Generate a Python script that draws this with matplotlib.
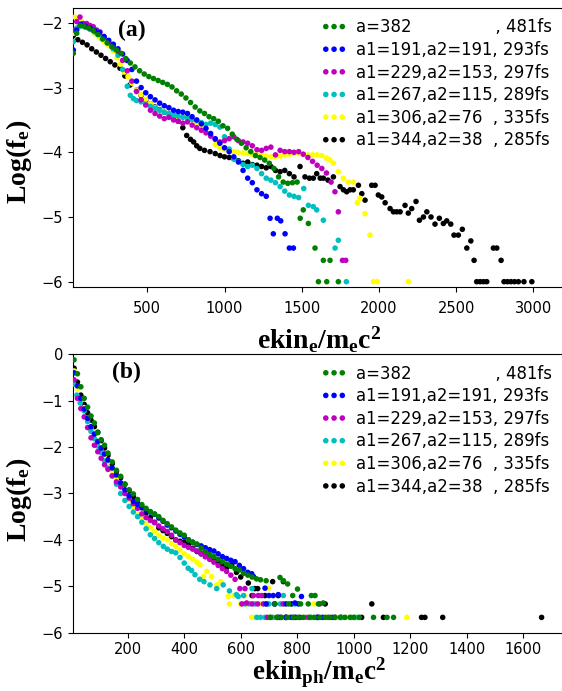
# electron (a) and photon (b) energy spectra, log of distribution
import matplotlib.pyplot as plt

plt.rcParams['mathtext.fontset'] = 'custom'
plt.rcParams['mathtext.bf'] = 'Liberation Serif:bold'
plt.rcParams['mathtext.rm'] = 'Liberation Serif'

# legend labels and colours (same for both panels)
labels = ['a=382                , 481fs',
          'a1=191,a2=191, 293fs',
          'a1=229,a2=153, 297fs',
          'a1=267,a2=115, 289fs',
          'a1=306,a2=76  , 335fs',
          'a1=344,a2=38  , 285fs']
colors = ['green', 'blue', 'm', 'c', 'yellow', 'black']

# ---------------- panel (a): electrons ----------------
ex_382 = [21, 43, 64, 90, 120, 150, 180, 210, 240, 270, 300, 330, 360, 390, 420, 450, 480, 510, 540, 570,
          600, 630, 660, 690, 720, 750, 780, 810, 840, 870, 900, 930, 960, 990, 1020, 1050, 1080, 1110, 1140, 1170,
          1200, 1230, 1260, 1290, 1320, 1350, 1380, 1410, 1440, 1470, 1490, 1510, 1543, 1586, 1608, 1640, 1662, 1683, 1737]
ey_382 = [-2.47, -2.16, -2.04, -2.05, -2.08, -2.12, -2.18, -2.25, -2.31, -2.37, -2.42, -2.47, -2.55, -2.62, -2.68, -2.74, -2.79, -2.83, -2.86, -2.89,
          -2.92, -2.95, -2.99, -3.05, -3.10, -3.16, -3.23, -3.30, -3.36, -3.40, -3.45, -3.48, -3.52, -3.59, -3.63, -3.72, -3.80, -3.86, -3.93, -3.99,
          -4.05, -4.08, -4.12, -4.17, -4.25, -4.38, -4.46, -4.48, -4.47, -4.46, -5.02, -4.89, -5.10, -5.48, -6.0, -5.67, -6.0, -5.67, -6.0]

ex_191 = [21, 43, 70, 100, 130, 160, 190, 220, 250, 280, 310, 340, 370, 400, 430, 460, 490, 520, 550, 580,
          610, 640, 670, 700, 730, 760, 790, 820, 850, 880, 910, 940, 970, 1000, 1030, 1060, 1090, 1120, 1150, 1180,
          1210, 1240, 1270, 1295, 1316, 1342, 1364, 1392, 1420, 1446]
ey_191 = [-2.42, -2.11, -2.02, -2.05, -2.08, -2.12, -2.15, -2.21, -2.27, -2.33, -2.40, -2.48, -2.58, -2.72, -2.90, -3.00, -3.08, -3.14, -3.19, -3.24,
          -3.28, -3.31, -3.35, -3.37, -3.38, -3.40, -3.45, -3.50, -3.56, -3.63, -3.71, -3.79, -3.86, -3.93, -3.99, -4.07, -4.15, -4.28, -4.40, -4.47,
          -4.58, -4.64, -4.68, -5.02, -5.26, -5.02, -5.06, -5.26, -5.48, -5.48]

ex_229 = [21, 43, 64, 86, 107, 129, 150, 172, 194, 220, 250, 280, 310, 340, 370, 400, 430, 460, 490, 520,
          550, 580, 610, 640, 670, 700, 730, 760, 790, 820, 850, 880, 910, 940, 970, 1000, 1030, 1060, 1090, 1120,
          1150, 1180, 1210, 1240, 1270, 1300, 1330, 1360, 1390, 1420, 1450, 1480, 1510, 1540, 1570, 1600, 1630, 1660, 1690, 1715,
          1737, 1764, 1785]
ey_229 = [-2.11, -1.98, -1.91, -2.01, -2.01, -2.04, -2.06, -2.11, -2.14, -2.22, -2.30, -2.37, -2.44, -2.58, -2.74, -2.90, -3.06, -3.19, -3.27, -3.35,
          -3.40, -3.44, -3.48, -3.46, -3.50, -3.52, -3.55, -3.53, -3.58, -3.62, -3.66, -3.70, -3.75, -3.80, -3.84, -3.82, -3.79, -3.76, -3.82, -3.84,
          -3.86, -3.90, -3.96, -3.97, -3.94, -3.92, -4.04, -3.97, -3.99, -3.99, -4.00, -3.99, -4.03, -4.08, -4.14, -4.20, -4.25, -4.32, -4.46, -4.61,
          -4.92, -5.67, -5.67]

ex_267 = [21, 43, 70, 100, 130, 160, 190, 220, 250, 280, 310, 340, 370, 390, 410, 430, 460, 490, 520, 550,
          580, 610, 640, 670, 700, 730, 760, 790, 820, 850, 880, 910, 940, 970, 1000, 1030, 1060, 1090, 1120, 1150,
          1180, 1210, 1240, 1270, 1300, 1330, 1360, 1390, 1420, 1450, 1480, 1513, 1543, 1575, 1597, 1640, 1716, 1737, 1789]
ey_267 = [-2.29, -2.08, -2.05, -2.07, -2.10, -2.14, -2.18, -2.24, -2.31, -2.40, -2.50, -2.72, -2.98, -3.12, -3.17, -3.20, -3.22, -3.26, -3.29, -3.32,
          -3.35, -3.38, -3.40, -3.42, -3.44, -3.46, -3.47, -3.49, -3.51, -3.54, -3.57, -3.55, -3.57, -3.61, -3.76, -3.95, -4.10, -4.14, -4.19, -4.22,
          -4.20, -4.25, -4.33, -4.40, -4.43, -4.47, -4.53, -4.60, -4.66, -4.68, -4.70, -4.56, -4.82, -4.84, -4.89, -5.05, -5.48, -5.36, -6.0]

ex_306 = [21, 32, 50, 70, 100, 130, 160, 190, 220, 250, 280, 305, 325, 350, 375, 400, 430, 460, 490, 520,
          550, 580, 610, 640, 670, 700, 730, 760, 790, 820, 850, 880, 910, 940, 970, 1000, 1030, 1060, 1090, 1120,
          1150, 1180, 1210, 1240, 1270, 1300, 1330, 1360, 1390, 1420, 1450, 1480, 1510, 1540, 1570, 1600, 1630, 1660, 1683, 1705,
          1737, 1770, 1802, 1834, 1860, 1877, 1910, 1942, 1964, 1990, 2190]
ey_306 = [-2.16, -1.91, -1.94, -1.97, -2.03, -2.10, -2.17, -2.23, -2.29, -2.35, -2.44, -2.54, -2.64, -2.76, -2.83, -2.93, -3.04, -3.11, -3.18, -3.25,
          -3.31, -3.35, -3.37, -3.40, -3.43, -3.45, -3.45, -3.46, -3.50, -3.56, -3.63, -3.69, -3.74, -3.88, -3.93, -3.96, -3.98, -3.99, -4.00, -4.01,
          -4.02, -4.03, -4.04, -4.04, -4.06, -4.07, -4.07, -4.06, -4.04, -4.03, -4.02, -4.02, -4.03, -4.04, -4.04, -4.04, -4.05, -4.09, -4.12, -4.17,
          -4.30, -4.40, -4.46, -4.46, -4.78, -4.71, -4.95, -5.28, -6.0, -6.0, -6.0]

ex_344 = [20, 50, 80, 110, 140, 170, 200, 230, 260, 290, 323, 355, 388, 431, 460, 490, 520, 550, 580, 610,
          640, 670, 700, 730, 755, 780, 800, 820, 840, 870, 906, 940, 971, 1000, 1030, 1060, 1090, 1120, 1150, 1180,
          1210, 1240, 1270, 1300, 1330, 1360, 1390, 1420, 1450, 1489, 1521, 1550, 1575, 1597, 1620, 1640, 1670, 1705, 1748, 1770,
          1791, 1813, 1834, 1867, 1889, 1910, 1953, 1975, 1996, 2018, 2040, 2072, 2094, 2115, 2137, 2169, 2190, 2212, 2240, 2262,
          2288, 2310, 2337, 2363, 2391, 2417, 2439, 2465, 2486, 2514, 2540, 2569, 2595, 2616, 2633, 2655, 2677, 2698, 2741, 2763,
          2791, 2810, 2832, 2855, 2878, 2903, 2939, 2990]
ey_344 = [-2.20, -2.26, -2.30, -2.34, -2.40, -2.45, -2.50, -2.55, -2.60, -2.65, -2.70, -2.82, -2.96, -3.04, -3.12, -3.19, -3.25, -3.30, -3.34, -3.38,
          -3.41, -3.45, -3.52, -3.62, -3.74, -3.80, -3.84, -3.90, -3.94, -3.97, -3.99, -4.02, -4.05, -4.07, -4.08, -4.10, -4.13, -4.17, -4.15, -4.19,
          -4.20, -4.22, -4.24, -4.22, -4.28, -4.30, -4.28, -4.33, -4.38, -4.22, -4.38, -4.40, -4.40, -4.33, -4.40, -4.40, -4.43, -4.38, -4.53, -4.58,
          -4.61, -4.58, -4.58, -4.51, -4.64, -4.74, -4.51, -4.51, -4.66, -4.69, -4.78, -4.87, -4.92, -4.92, -4.92, -4.82, -4.94, -4.87, -4.76, -5.05,
          -5.00, -4.92, -5.00, -5.11, -5.02, -5.10, -5.06, -5.11, -5.28, -5.28, -5.19, -5.48, -5.37, -5.67, -6.0, -6.0, -6.0, -6.0, -5.48, -5.48,
          -5.67, -6.0, -6.0, -6.0, -6.0, -6.0, -6.0, -6.0]

# ---------------- panel (b): photons ----------------
px_382 = [10, 22, 34, 46, 58, 70, 82, 94, 106, 118, 130, 145, 160, 175, 190, 205, 220, 235, 250, 265,
          280, 295, 310, 325, 340, 355, 370, 385, 400, 415, 430, 445, 460, 475, 490, 505, 520, 535, 550, 565,
          580, 595, 610, 625, 640, 656, 670, 690, 705, 721, 739, 751, 766, 784, 801, 822, 839, 863, 875, 892,
          916, 934, 952, 969, 987, 1070, 1141, 744, 786, 804, 845, 728, 765, 860, 880, 900, 1000, 1020, 1118,
          812, 770, 850]
py_382 = [-0.12, -0.42, -0.70, -0.95, -1.14, -1.33, -1.48, -1.69, -1.84, -1.96, -2.13, -2.32, -2.50, -2.63, -2.80, -2.92, -3.01, -3.13, -3.24, -3.32,
          -3.39, -3.44, -3.50, -3.58, -3.65, -3.72, -3.79, -3.85, -3.90, -4.00, -4.05, -4.09, -4.18, -4.25, -4.31, -4.36, -4.42, -4.47, -4.52, -4.57,
          -4.62, -4.65, -4.72, -4.76, -4.80, -4.84, -4.86, -4.88, -5.67, -5.38, -4.81, -4.88, -4.95, -5.20, -5.06, -5.67, -5.38, -5.20, -5.38, -5.36,
          -5.67, -5.67, -5.67, -5.67, -5.67, -5.67, -5.67, -5.67, -5.67, -5.67, -5.67, -5.67, -5.67, -5.67, -5.67, -5.67, -5.67, -5.67, -5.67,
          -5.38, -5.38, -5.20]

px_191 = [10, 22, 34, 46, 58, 70, 82, 94, 106, 118, 130, 145, 160, 175, 190, 205, 220, 235, 250, 265,
          280, 295, 310, 325, 340, 355, 370, 385, 400, 415, 430, 445, 460, 475, 490, 505, 520, 535, 550, 565,
          580, 595, 610, 625, 639, 645, 686, 715, 733, 760, 792, 804, 815, 875, 760, 730, 780, 690, 720, 740,
          795, 810, 890, 925, 700]
py_191 = [-0.40, -0.68, -0.95, -1.18, -1.38, -1.56, -1.72, -1.88, -2.02, -2.15, -2.28, -2.45, -2.60, -2.77, -2.92, -3.05, -3.17, -3.24, -3.28, -3.36,
          -3.40, -3.45, -3.53, -3.60, -3.68, -3.74, -3.81, -3.88, -3.94, -4.00, -4.05, -4.10, -4.13, -4.17, -4.21, -4.24, -4.30, -4.36, -4.40, -4.44,
          -4.47, -4.55, -4.62, -4.70, -4.73, -4.79, -5.04, -5.20, -5.18, -5.38, -5.36, -5.38, -5.22, -5.67, -5.67, -5.67, -5.67, -5.38, -5.38, -5.67,
          -5.67, -5.67, -5.67, -5.67, -5.20]

px_229 = [10, 22, 34, 46, 58, 70, 82, 94, 106, 118, 130, 145, 160, 175, 190, 205, 220, 235, 250, 265,
          280, 295, 310, 325, 340, 355, 370, 385, 400, 415, 430, 445, 460, 475, 490, 505, 520, 535, 550, 565,
          580, 597, 604, 621, 662, 674, 694, 720, 750, 872, 910, 760, 640, 660, 680, 705, 735, 790, 840, 880,
          645, 615]
py_229 = [-0.55, -0.95, -1.17, -1.35, -1.58, -1.80, -1.96, -2.10, -2.24, -2.38, -2.48, -2.62, -2.75, -2.86, -3.00, -3.10, -3.22, -3.32, -3.44, -3.52,
          -3.58, -3.63, -3.70, -3.76, -3.82, -3.90, -4.00, -4.06, -4.12, -4.16, -4.20, -4.24, -4.30, -4.36, -4.42, -4.48, -4.55, -4.62, -4.68, -4.76,
          -4.85, -5.05, -5.38, -5.36, -5.20, -5.20, -5.67, -5.38, -5.38, -5.67, -5.67, -5.67, -5.38, -5.38, -5.38, -5.67, -5.67, -5.67, -5.67, -5.38,
          -5.20, -5.05]

px_267 = [10, 20, 32, 46, 58, 70, 82, 94, 106, 118, 130, 145, 160, 175, 190, 205, 220, 235, 250, 265,
          280, 295, 310, 326, 340, 355, 370, 385, 400, 414, 426, 438, 455, 470, 491, 515, 538, 560, 585, 591,
          615, 640, 657, 686, 700, 751, 792, 760, 830, 1005, 630, 650, 670, 715, 740, 775, 850, 870, 960, 990,
          1015, 610]
py_267 = [-0.65, -0.88, -1.05, -1.22, -1.45, -1.66, -1.82, -1.98, -2.12, -2.30, -2.45, -2.62, -2.80, -3.00, -3.15, -3.28, -3.40, -3.50, -3.62, -3.76,
          -3.89, -3.97, -4.06, -4.14, -4.20, -4.25, -4.28, -4.38, -4.50, -4.61, -4.66, -4.75, -4.85, -4.90, -4.97, -5.05, -4.97, -5.10, -5.18, -5.22,
          -5.38, -5.05, -5.67, -5.67, -5.38, -5.20, -5.38, -5.67, -5.67, -5.67, -5.38, -5.38, -5.67, -5.67, -5.38, -5.67, -5.67, -5.67, -5.67, -5.67,
          -5.67, -5.20]

px_306 = [10, 22, 34, 46, 58, 70, 82, 94, 106, 118, 130, 145, 160, 175, 190, 205, 220, 235, 250, 265,
          280, 295, 310, 325, 340, 355, 370, 385, 400, 415, 430, 445, 456, 468, 480, 497, 515, 530, 556, 575,
          560, 620, 650, 670, 698, 700, 730, 769, 790, 820, 905, 941, 1005, 1188, 639, 600, 612, 690, 715, 745,
          755, 800, 835, 860, 920, 975]
py_306 = [-0.36, -0.75, -0.98, -1.15, -1.40, -1.58, -1.72, -1.88, -2.02, -2.18, -2.32, -2.50, -2.66, -2.82, -2.98, -3.14, -3.30, -3.46, -3.55, -3.65,
          -3.74, -3.82, -3.90, -3.96, -4.00, -4.08, -4.14, -4.22, -4.30, -4.36, -4.42, -4.48, -4.54, -4.79, -4.68, -4.79, -4.97, -4.90, -5.22, -5.20,
          -5.38, -5.38, -5.67, -5.38, -5.04, -5.67, -5.67, -5.67, -5.67, -5.67, -5.67, -5.67, -5.67, -5.67, -5.67, -5.38, -5.20, -5.38, -5.67, -5.67,
          -5.38, -5.67, -5.67, -5.38, -5.67, -5.67]

px_344 = [10, 22, 34, 46, 58, 70, 82, 94, 106, 118, 130, 145, 160, 175, 190, 205, 220, 235, 250, 265,
          280, 295, 310, 325, 340, 355, 370, 385, 400, 415, 430, 445, 460, 475, 490, 505, 520, 535, 550, 568,
          585, 600, 627, 650, 686, 692, 713, 733, 751, 899, 934, 1028, 1064, 1105, 1240, 1252, 1315, 1665, 760, 780,
          870, 955, 660, 640]
py_344 = [-0.30, -0.60, -0.88, -1.08, -1.26, -1.42, -1.56, -1.68, -1.86, -2.02, -2.18, -2.36, -2.52, -2.66, -2.80, -2.94, -3.07, -3.20, -3.31, -3.42,
          -3.52, -3.62, -3.74, -3.80, -3.86, -3.93, -4.00, -4.03, -4.05, -4.10, -4.18, -4.25, -4.30, -4.36, -4.40, -4.44, -4.50, -4.55, -4.60, -4.54,
          -4.70, -4.80, -4.93, -5.05, -5.20, -5.38, -4.90, -5.20, -4.90, -5.38, -5.67, -5.67, -5.38, -5.67, -5.67, -5.67, -5.67, -5.67, -5.67, -5.38,
          -5.67, -5.67, -5.05, -5.20]

elec = [(ex_382, ey_382), (ex_191, ey_191), (ex_229, ey_229), (ex_267, ey_267), (ex_306, ey_306), (ex_344, ey_344)]
phot = [(px_382, py_382), (px_191, py_191), (px_229, py_229), (px_267, py_267), (px_306, py_306), (px_344, py_344)]

fig = plt.figure(figsize=(5.62, 6.91), dpi=100)
ax1 = fig.add_axes([0.1294, 0.5842, 0.876, 0.4042])
ax2 = fig.add_axes([0.1294, 0.0844, 0.876, 0.4029])

for ax, data in [(ax1, elec), (ax2, phot)]:
    n = len(data)
    for i, ((x, y), c, lab) in enumerate(zip(data, colors, labels)):
        # first series ends up on top
        ax.scatter(x, y, s=16, color=c, edgecolors='none', label=lab, zorder=3 + n - i)
    ax.legend(loc='upper right', bbox_to_anchor=(0.974, 0.963), frameon=False, fontsize=11.9,
              scatterpoints=3, scatteryoffsets=[0.5], labelspacing=0.28, handlelength=1.6,
              handletextpad=0.55, borderpad=0, borderaxespad=0)
    ax.tick_params(labelsize=10.5)
    ax.set_ylabel(r'$\mathbf{Log(f_e)}$', fontsize=20)

# panel (a)
ax1.set_xlim(17, 3205)
ax1.set_ylim(-6.087, -1.77)
ax1.set_xticks([500, 1000, 1500, 2000, 2500, 3000])
ax1.set_yticks([-2, -3, -4, -5, -6])
ax1.tick_params(axis='x', pad=6.5)
ax1.set_xlabel(r'$\mathbf{ekin_e/m_ec^2}$', fontsize=20, labelpad=6)
ax1.yaxis.set_label_coords(-0.078, 0.45)
ax1.text(0.12, 0.921, '(a)', transform=ax1.transAxes, ha='center', va='center',
         fontsize=17, fontweight='bold', family='Liberation Serif')

# panel (b)
ax2.set_xlim(5.3, 1748)
ax2.set_ylim(-6, 0)
ax2.set_xticks([200, 400, 600, 800, 1000, 1200, 1400, 1600])
ax2.set_yticks([0, -1, -2, -3, -4, -5, -6])
ax2.set_xlabel(r'$\mathbf{ekin_{ph}/m_ec^2}$', fontsize=19.5, labelpad=-1)
ax2.yaxis.set_label_coords(-0.078, 0.478)
ax2.text(0.11, 0.933, '(b)', transform=ax2.transAxes, ha='center', va='center',
         fontsize=17, fontweight='bold', family='Liberation Serif')

fig.savefig('out.png', dpi=100)
